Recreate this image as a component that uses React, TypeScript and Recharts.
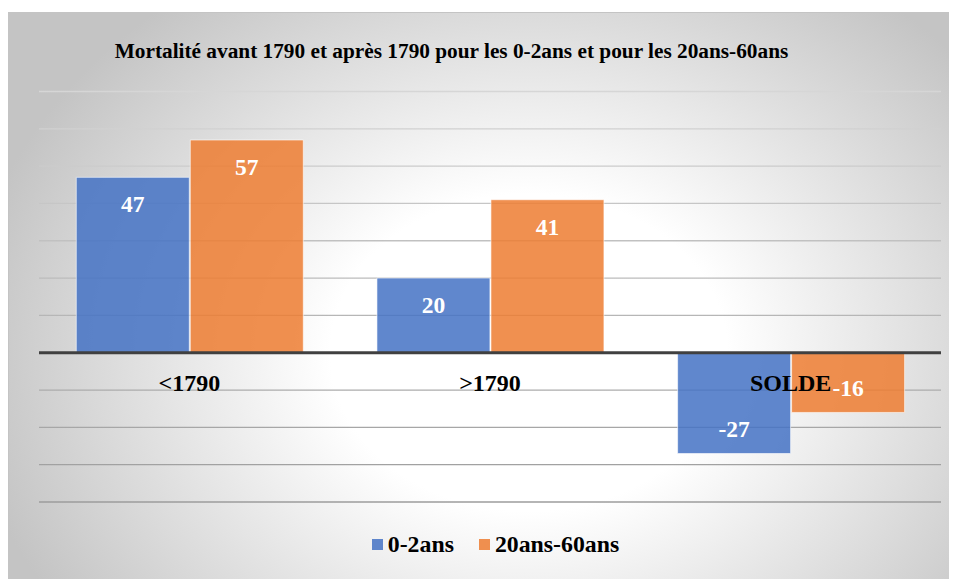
import React from "react";
import {
  BarChart,
  Bar,
  XAxis,
  YAxis,
  CartesianGrid,
  ReferenceLine,
  ReferenceDot,
  LabelList,
  Legend,
} from "recharts";

const categories = ["<1790", ">1790", "SOLDE"];
const youngValues = [47, 20, -27];
const adultValues = [57, 41, -16];
const yTicks = [-40, -30, -20, -10, 0, 10, 20, 30, 40, 50, 60, 70];
const seriesNames = ["0-2ans", "20ans-60ans"];
const title =
  "Mortalité avant 1790 et après 1790 pour les 0-2ans et pour les 20ans-60ans";

const data = categories.map((c, i) => ({
  cat: c,
  young: youngValues[i],
  adult: adultValues[i],
}));

const FONT = "'Liberation Serif', 'Times New Roman', serif";
const BLUE = "#4472C4";
const ORANGE = "#ED7D31";

const W = 947;
const H = 567;
const LEGEND_H = 24;

const renderValueLabel = (props: any) => {
  const vb = props.viewBox || props;
  const x = props.x ?? vb.x;
  const y = props.y ?? vb.y;
  const width = props.width ?? vb.width;
  const height = props.height ?? vb.height;
  const value = props.value;
  const top = Math.min(y, y + height);
  const bottom = Math.max(y, y + height);
  const cy = value >= 0 ? top + 27 : bottom - 24;
  return (
    <text
      x={x + width / 2}
      y={cy}
      textAnchor="middle"
      dominantBaseline="central"
      fill="#ffffff"
      fontFamily={FONT}
      fontWeight="bold"
      fontSize={23.5}
    >
      {value}
    </text>
  );
};

const makeCatLabel = (text: string) => (props: any) => {
  const vb = props.viewBox || {};
  return (
    <text
      x={vb.x + (vb.width || 0) / 2}
      y={vb.y + 30}
      textAnchor="middle"
      dominantBaseline="central"
      fill="#000"
      fontFamily={FONT}
      fontWeight="bold"
      fontSize={24}
    >
      {text}
    </text>
  );
};

const renderLegend = () => (
  <div
    style={{
      height: LEGEND_H,
      display: "flex",
      justifyContent: "center",
      alignItems: "center",
      paddingLeft: 26,
      fontFamily: FONT,
      fontWeight: "bold",
      fontSize: 23.8,
      color: "#000",
      lineHeight: "24px",
    }}
  >
    {[BLUE, ORANGE].map((col, i) => (
      <div
        key={i}
        style={{
          display: "flex",
          alignItems: "center",
          marginRight: i === 0 ? 25 : 0,
        }}
      >
        <span
          style={{
            display: "inline-block",
            width: 11,
            height: 11,
            background: col,
            opacity: 0.85,
            marginRight: 5,
          }}
        />
        <span>{seriesNames[i]}</span>
      </div>
    ))}
  </div>
);

export default function App() {
  return (
    <div style={{ position: "relative", width: 949, height: 571 }}>
      <div
        style={{
          position: "absolute",
          left: 0,
          top: 4,
          width: W,
          height: H,
          boxSizing: "border-box",
          borderTop: "1px solid #c4c4c4",
          borderLeft: "1px solid #c4c4c4",
          borderRight: "1px solid #c4c4c4",
          background:
            "radial-gradient(ellipse 60% 80% at 55% 60%, #ffffff 0%, #ffffff 35%, #c4c4c4 100%)",
          overflow: "hidden",
        }}
      >
        <div
          style={{
            position: "absolute",
            left: 442.5,
            top: 28,
            transform: "translateX(-50%)",
            whiteSpace: "nowrap",
            fontFamily: FONT,
            fontWeight: "bold",
            fontSize: 21.3,
            lineHeight: "20px",
            color: "#000",
          }}
        >
          {title}
        </div>
        <div style={{ position: "absolute", left: 0, top: 0 }}>
          <BarChart
            width={W}
            height={H}
            data={data}
            margin={{ top: 78.5, right: 15, left: 30, bottom: 78 - LEGEND_H }}
            barCategoryGap="12.4%"
            barGap={1}
          >
            <defs>
              <linearGradient
                id="gridGrad"
                gradientUnits="userSpaceOnUse"
                x1="0"
                y1="78"
                x2="0"
                y2="490"
              >
                <stop offset="0%" stopColor="#d6d6d6" />
                <stop offset="100%" stopColor="#9c9c9c" />
              </linearGradient>
            </defs>
            <CartesianGrid
              vertical={false}
              stroke="url(#gridGrad)"
              strokeWidth={1.3}
            />
            <XAxis dataKey="cat" hide />
            <YAxis
              hide
              type="number"
              domain={[-40, 70]}
              ticks={yTicks}
              interval={0}
            />
            <Bar
              dataKey="young"
              name={seriesNames[0]}
              fill={BLUE}
              fillOpacity={0.85}
              stroke="#ffffff"
              strokeOpacity={0.6}
              strokeWidth={1}
              isAnimationActive={false}
            >
              <LabelList dataKey="young" content={renderValueLabel} />
            </Bar>
            <Bar
              dataKey="adult"
              name={seriesNames[1]}
              fill={ORANGE}
              fillOpacity={0.85}
              stroke="#ffffff"
              strokeOpacity={0.6}
              strokeWidth={1}
              isAnimationActive={false}
            >
              <LabelList dataKey="adult" content={renderValueLabel} />
            </Bar>
            <ReferenceLine y={0} stroke="#404040" strokeWidth={3} />
            {categories.map((c) => (
              <ReferenceDot
                key={c}
                x={c}
                y={0}
                r={0}
                fill="none"
                stroke="none"
                label={{ content: makeCatLabel(c) }}
              />
            ))}
            <Legend
              verticalAlign="bottom"
              content={renderLegend}
              wrapperStyle={{ top: 519, left: 0, width: W, bottom: "auto" }}
            />
          </BarChart>
        </div>
      </div>
    </div>
  );
}
